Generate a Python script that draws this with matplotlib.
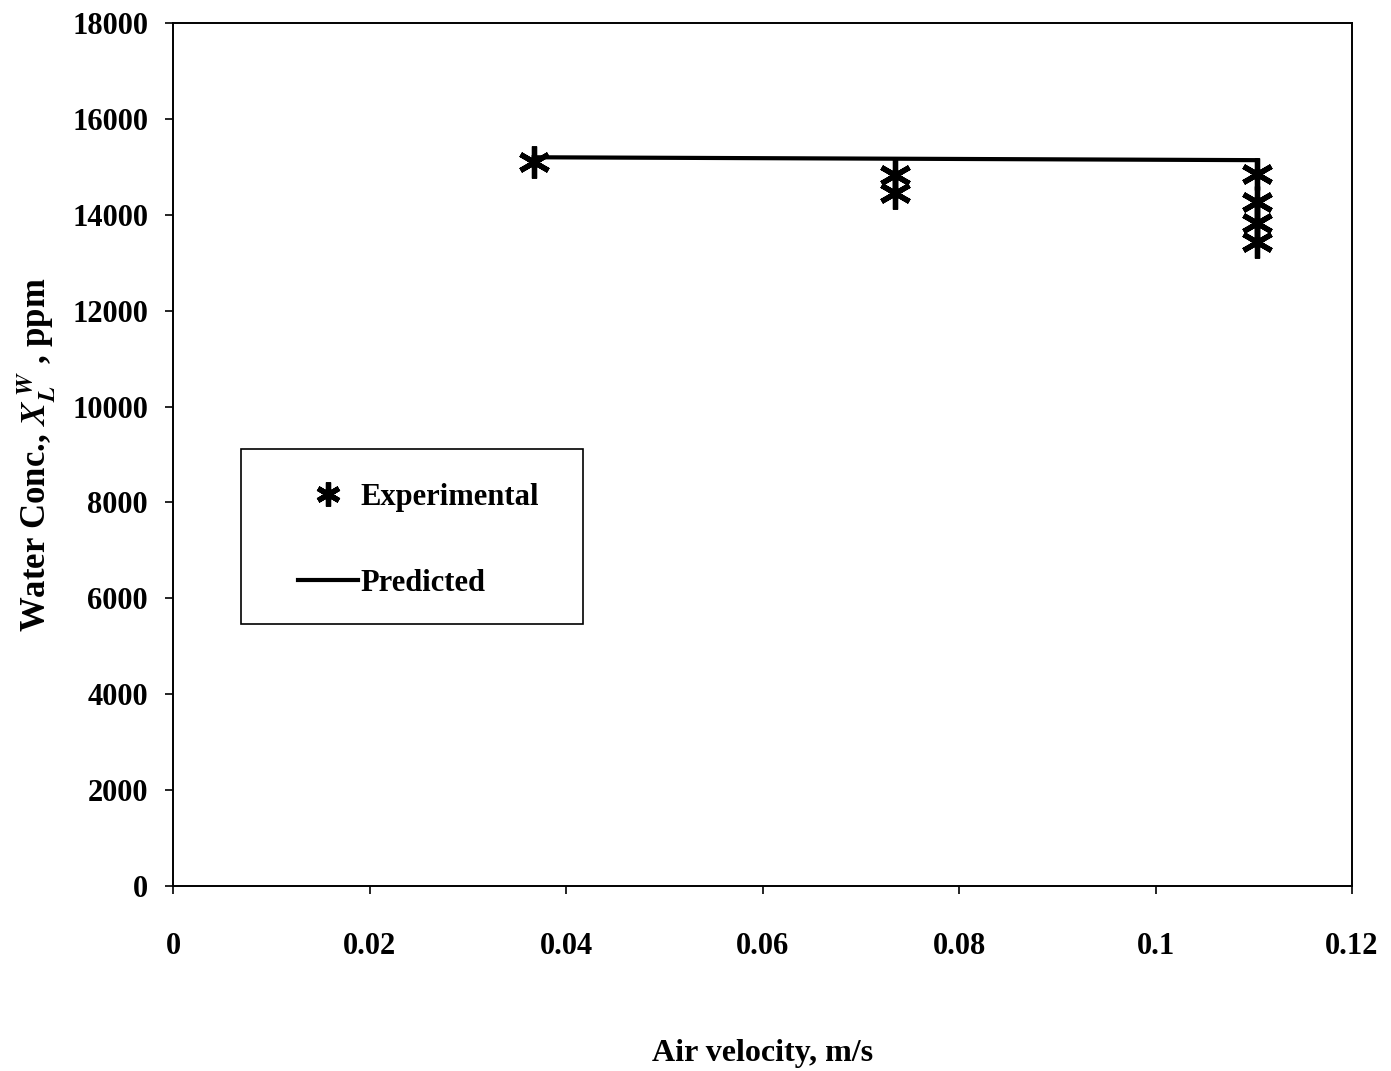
import matplotlib
matplotlib.use("Agg")
import matplotlib.pyplot as plt
from matplotlib.patches import Rectangle
from matplotlib.ticker import FuncFormatter

# air velocity (m/s) and measured water concentration (ppm)
exp_velocity = [0.0367, 0.0735, 0.0735, 0.1103, 0.1103, 0.1103, 0.1103]
exp_conc = [15110, 14830, 14460, 14860, 14270, 13830, 13440]

# model prediction
pred_velocity = [0.0367, 0.0735, 0.1103]
pred_conc = [15200, 15170, 15140]

x_ticks = [0, 0.02, 0.04, 0.06, 0.08, 0.1, 0.12]
y_ticks = [0, 2000, 4000, 6000, 8000, 10000, 12000, 14000, 16000, 18000]

plt.rcParams["font.family"] = ["Liberation Serif", "DejaVu Serif"]
plt.rcParams["mathtext.fontset"] = "stix"

fig = plt.figure(figsize=(13.91, 10.71), dpi=100)
ax = fig.add_axes([0.1244, 0.1727, 0.8476, 0.8058])

ax.plot(pred_velocity, pred_conc, color="black", linewidth=3, label="Predicted", zorder=2)
ax.plot(exp_velocity, exp_conc, linestyle="none", marker=(6, 2, 0), markersize=23,
        markeredgewidth=3.8, color="black", label="Experimental", zorder=3)

ax.set_xlim(0, 0.12)
ax.set_ylim(0, 18000)
ax.set_xticks(x_ticks)
ax.set_yticks(y_ticks)
ax.xaxis.set_major_formatter(FuncFormatter(lambda v, p: f"{v:g}"))
ax.yaxis.set_major_formatter(FuncFormatter(lambda v, p: f"{v:g}"))
ax.tick_params(direction="out", length=6, width=1.2, labelsize=22, top=False, right=False)
ax.tick_params(axis="x", pad=27)
ax.tick_params(axis="y", pad=12)
for lbl in ax.get_xticklabels() + ax.get_yticklabels():
    lbl.set_fontweight("bold")
for s in ax.spines.values():
    s.set_linewidth(1.4)

ax.set_xlabel("Air velocity, m/s", fontsize=23, fontweight="bold", labelpad=56)
ax.set_ylabel(r"Water Conc., $\mathbfit{X}_{\mathbfit{L}}^{\ \mathbfit{W}}$ , ppm",
              fontsize=25, fontweight="bold", labelpad=10)

# legend box drawn separately so the entries can sit inset from the frame
ax.add_patch(Rectangle((0.0577, 0.304), 0.29, 0.202, transform=ax.transAxes,
                       fill=False, edgecolor="black", linewidth=1.2, zorder=4))
handles, labels = ax.get_legend_handles_labels()
leg = ax.legend(handles[::-1], labels[::-1], loc="upper left",
                bbox_to_anchor=(0.106, 0.467), borderaxespad=0, borderpad=0,
                prop={"size": 22, "weight": "bold"}, frameon=False,
                labelspacing=1.85, handlelength=1.95, handletextpad=0.1,
                markerscale=0.75)

fig.savefig("out.png", dpi=100)
